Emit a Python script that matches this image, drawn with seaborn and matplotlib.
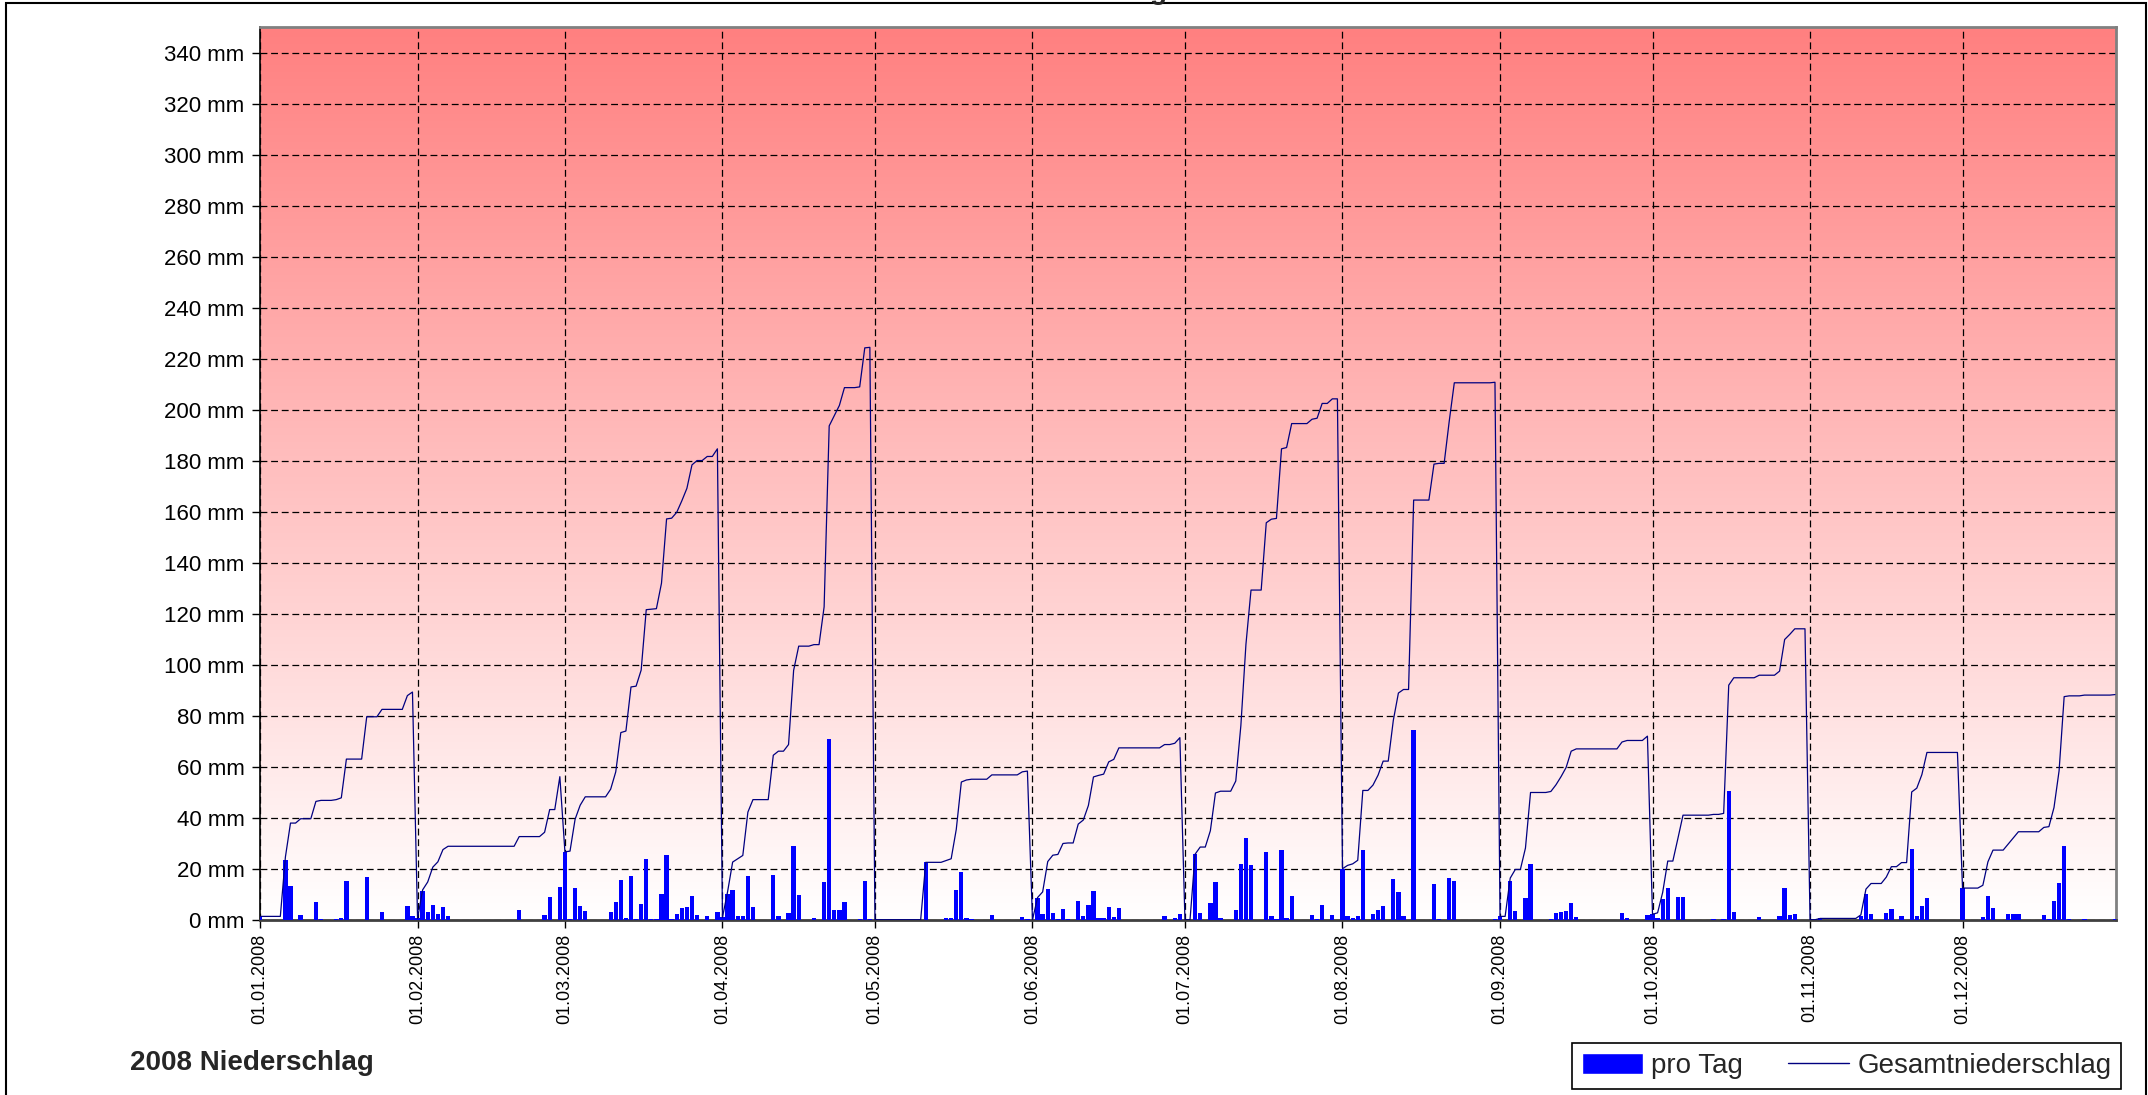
import matplotlib
matplotlib.use('Agg')
import matplotlib.pyplot as plt
import numpy as np
import pandas as pd
import seaborn as sns
from matplotlib.colors import LinearSegmentedColormap
from matplotlib.lines import Line2D
from matplotlib.patches import Patch, Rectangle

# daily precipitation in mm, one list per month (2008)
jan = [1.3, 0, 0, 0, 0, 23.3, 13.3, 0, 1.7, 0, 0, 6.8, 0.4, 0, 0, 0.3, 0.7, 15.2, 0, 0,
       0, 16.6, 0, 0, 2.9, 0, 0, 0, 0, 5.4, 1.4]
feb = [0.5, 11.2, 3.1, 5.8, 2.1, 4.8, 1.3, 0, 0, 0, 0, 0, 0, 0, 0, 0, 0, 0, 0, 0,
       3.8, 0, 0, 0, 0, 1.7, 8.9, 0, 12.9]
mar = [26.6, 0.3, 12.5, 5.5, 3.3, 0, 0, 0, 0, 3.0, 6.8, 15.4, 0.6, 17.3, 0.3, 6.3, 23.7, 0.2, 0.2, 10.0,
       25.2, 0.3, 2.3, 4.5, 4.9, 9.2, 1.7, 0, 1.6, 0, 3.0]
apr = [0.9, 10.0, 11.7, 1.3, 1.3, 17.0, 4.9, 0, 0, 0, 17.4, 1.6, 0, 2.6, 29.1, 9.5, 0, 0, 0.6, 0,
       14.8, 71.0, 4.0, 4.0, 7.0, 0, 0, 0.3, 15.3, 0.2]
may = [0, 0, 0, 0, 0, 0, 0, 0, 0, 0, 22.5, 0, 0, 0, 0.7, 0.7, 11.5, 18.6, 0.8, 0.3,
       0, 0, 0, 1.7, 0, 0, 0, 0, 0, 1.2, 0.3]
jun = [0, 8.7, 2.2, 11.9, 2.5, 0.3, 4.3, 0.2, 0, 7.4, 1.6, 5.7, 11.2, 0.6, 0.5, 4.8, 1.0, 4.5, 0, 0,
       0, 0, 0, 0, 0, 0, 1.3, 0, 0.5, 2.2]
jul = [0, 0, 25.7, 2.8, 0, 6.4, 14.8, 0.7, 0, 0, 4.0, 21.7, 31.9, 21.3, 0, 0, 26.4, 1.4, 0.3, 27.3,
       0.5, 9.4, 0, 0, 0, 1.7, 0.4, 5.8, 0, 1.8, 0]
aug = [20.0, 1.3, 0.6, 1.4, 27.4, 0, 2.1, 3.9, 5.5, 0, 16.0, 10.7, 1.4, 0, 74.3, 0, 0, 0, 14.1, 0.3,
       0, 16.5, 15.1, 0, 0, 0, 0, 0, 0, 0, 0.2]
sep = [1.3, 0, 15.0, 3.4, 0, 8.4, 21.8, 0, 0, 0, 0.4, 2.6, 3.2, 3.6, 6.4, 0.9, 0, 0, 0, 0,
       0, 0, 0, 0, 2.7, 0.6, 0, 0, 0, 1.7]
oct = [2.1, 0.6, 8.0, 12.3, 0, 8.9, 9.1, 0, 0, 0, 0, 0, 0.3, 0, 0.4, 50.3, 2.9, 0, 0, 0,
       0, 1.0, 0, 0, 0, 1.6, 12.4, 2.0, 2.2, 0, 0]
nov = [0, 0, 0.5, 0, 0, 0, 0, 0, 0, 0, 1.4, 10.1, 2.2, 0, 0, 2.5, 4.1, 0, 1.6, 0,
       27.7, 1.5, 5.3, 8.7, 0, 0, 0, 0, 0, 0]
dec = [12.4, 0, 0, 0, 1.1, 9.2, 4.6, 0, 0, 2.4, 2.4, 2.4, 0, 0, 0, 0, 1.7, 0.3, 7.5, 14.4,
       29.1, 0.3, 0, 0, 0.3, 0, 0, 0, 0, 0, 0.2]

month_labels = ['01.01.2008', '01.02.2008', '01.03.2008', '01.04.2008', '01.05.2008', '01.06.2008',
                '01.07.2008', '01.08.2008', '01.09.2008', '01.10.2008', '01.11.2008', '01.12.2008']
y_ticks = list(range(0, 341, 20))

months = [jan, feb, mar, apr, may, jun, jul, aug, sep, oct, nov, dec]
daily = np.concatenate(months)
total = np.concatenate([np.cumsum(m) for m in months])  # monthly running total
month_start = np.cumsum([0] + [len(m) for m in months[:-1]])
df = pd.DataFrame({'tag': np.arange(len(daily)), 'pro_tag': daily, 'gesamt': total})

sns.set_theme(style='white')
plt.rcParams['font.family'] = ['Liberation Sans', 'DejaVu Sans']

W, H = 2148, 1095
fig = plt.figure(figsize=(W / 100, H / 100), dpi=100)
ax = fig.add_axes([260 / W, 1 - 919.7 / H, (2116 - 260) / W, (919.7 - 27.4) / H])

# red-to-white background gradient
grad = np.linspace(0, 1, 256).reshape(-1, 1)
cmap = LinearSegmentedColormap.from_list('bg', ['#FFFFFF', '#FF8080'])
ax.imshow(grad, cmap=cmap, aspect='auto', extent=[0, 1, 0, 1], origin='lower',
          transform=ax.transAxes, zorder=0)

sns.barplot(data=df, x='tag', y='pro_tag', native_scale=True, color='#0000FF', saturation=1,
            width=0.85, linewidth=0, ax=ax, zorder=3)
sns.lineplot(data=df, x='tag', y='gesamt', color='#000080', linewidth=0.9, ax=ax, zorder=4)

ax.set_xlim(0, 365.2)
ax.set_ylim(0, 350)
ax.set_yticks(y_ticks)
ax.set_yticklabels([f'{v} mm' for v in y_ticks], fontsize=16)
ax.set_xticks(month_start)
ax.set_xticklabels(month_labels, rotation=90, fontsize=13)
ax.set_xlabel('')
ax.set_ylabel('')
ax.tick_params(axis='both', direction='out', length=6, width=1, color='black', left=True, bottom=True,
               labelcolor='black')
ax.tick_params(axis='x', pad=4)
ax.tick_params(axis='y', pad=5)

ax.set_axisbelow(True)
ax.grid(True, linestyle=(0, (5.5, 3)), color='black', linewidth=0.9)

for side in ['top', 'right']:
    ax.spines[side].set_color('#808080')
    ax.spines[side].set_linewidth(2)
ax.spines['left'].set_color('black')
ax.spines['left'].set_linewidth(1.2)
ax.spines['bottom'].set_color('#404040')
ax.spines['bottom'].set_linewidth(2)

handles = [Patch(facecolor='#0000FF', label='pro Tag'),
           Line2D([], [], color='#000080', linewidth=1, label='Gesamtniederschlag')]
leg = fig.legend(handles=handles, loc='lower right', bbox_to_anchor=(2121 / W, 1 - 1089 / H),
                 borderaxespad=0, ncol=2, fontsize=20, frameon=True, fancybox=False,
                 edgecolor='black', framealpha=1, borderpad=0.35, handlelength=2.2,
                 handleheight=0.8, columnspacing=1.6, handletextpad=0.3)
leg.get_frame().set_linewidth(1.2)

fig.text(130 / W, 1 - 1063 / H, '2008 Niederschlag', fontsize=20, fontweight='bold', va='center')
fig.text(1080 / W, 1 + 1 / H, 'Niederschlag', fontsize=20, fontweight='bold', ha='center', va='baseline')

fig.patches.append(Rectangle((6 / W, -0.01), (2146 - 6) / W, 1.01 - 3 / H, transform=fig.transFigure,
                             fill=False, edgecolor='black', linewidth=1.5))

fig.savefig('out.png', dpi=100)
